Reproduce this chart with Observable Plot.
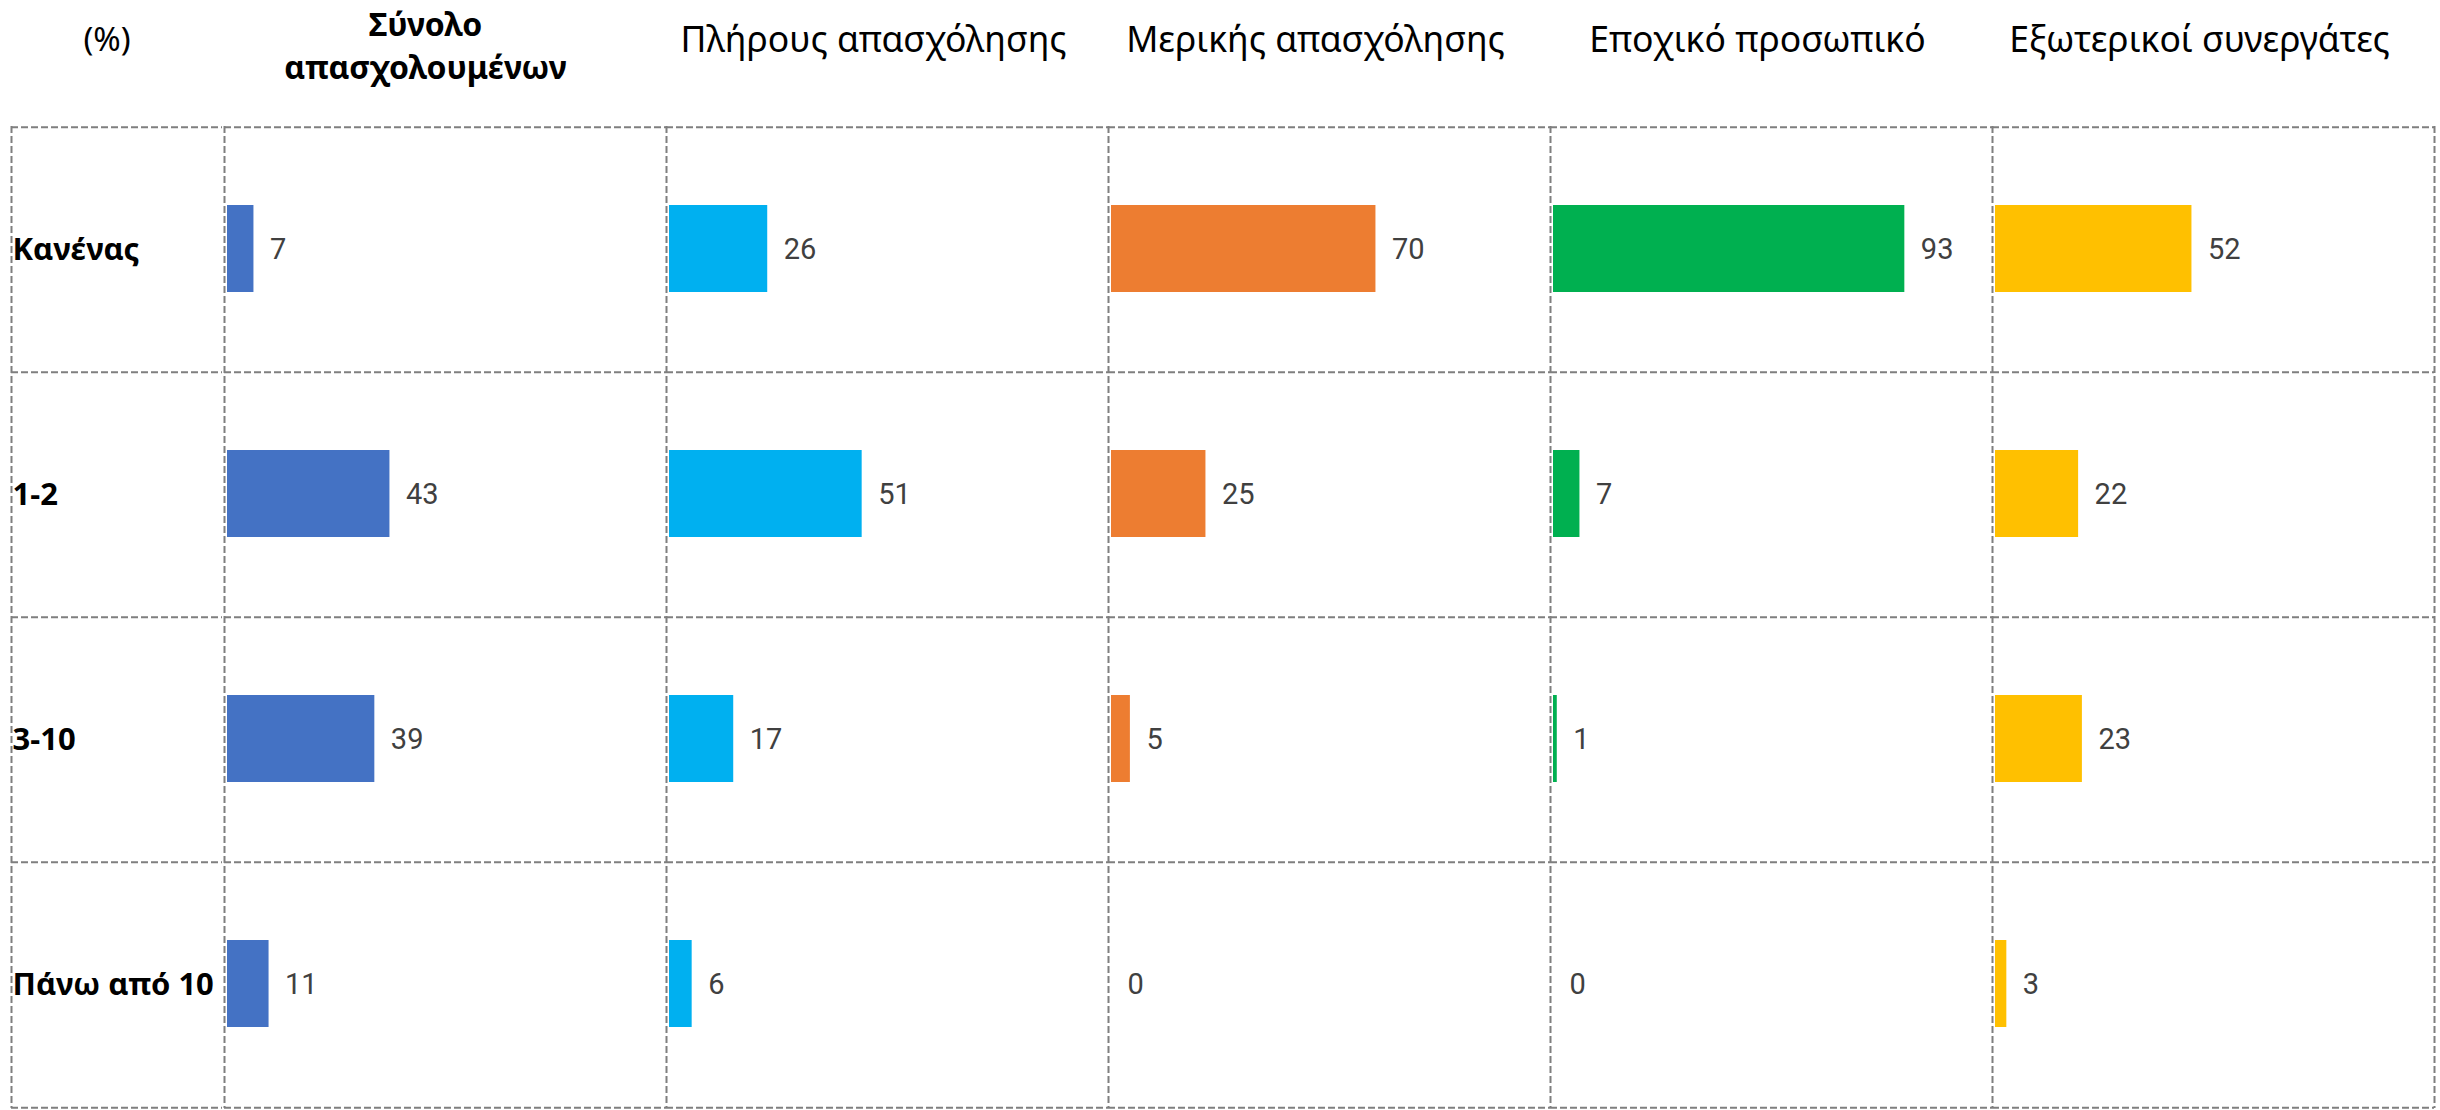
<!DOCTYPE html>
<html><head><meta charset="utf-8">
<script src="https://cdn.jsdelivr.net/npm/d3@7"></script>
<script src="https://cdn.jsdelivr.net/npm/@observablehq/plot@0.6"></script>
<style>
html,body{margin:0;padding:0;background:#fff;}
#chart{display:flex;width:2440px;height:1110px;}
#chart svg{display:block;overflow:visible;}
</style></head><body><div id="chart"></div>
<script>
const categories = ["Κανένας", "1-2", "3-10", "Πάνω από 10"];
const columns = ["total", "fullTime", "partTime", "seasonal", "external"];
const headerLabels = ["Σύνολο\nαπασχολουμένων", "Πλήρους απασχόλησης", "Μερικής απασχόλησης", "Εποχικό προσωπικό", "Εξωτερικοί συνεργάτες"];
const unitLabel = "(%)";
const total = [7, 43, 39, 11];
const fullTime = [26, 51, 17, 6];
const partTime = [70, 25, 5, 0];
const seasonal = [93, 7, 1, 0];
const external = [52, 22, 23, 3];
const colors = ["#4472C4", "#00B0F0", "#ED7D31", "#00B050", "#FFC000"];

const series = [total, fullTime, partTime, seasonal, external];
const data = columns.flatMap((c, j) => series[j].map((v, i) => ({column: c, category: categories[i], value: v})));

const H = 1110, TOP = 126, BOTTOM = 2, xMax = 117;
const rowH = (H - TOP - BOTTOM) / categories.length;
const grid = {stroke: "#7f7f7f", strokeWidth: 2, strokeDasharray: "7,3"};
const headerFont = "'Noto Sans', 'Open Sans', sans-serif";

const labelPlot = Plot.plot({
  width: 222, height: H, marginTop: TOP, marginBottom: BOTTOM, marginLeft: 11, marginRight: 0,
  style: {overflow: "visible", background: "transparent"},
  x: {domain: [0, 1], axis: null},
  y: {type: "band", domain: categories, padding: 0, axis: null},
  marks: [
    Plot.ruleX([0], grid),
    Plot.ruleY(categories, {y: d => d, dy: -rowH / 2, ...grid}),
    Plot.ruleY(categories.slice(-1), {y: d => d, dy: rowH / 2, ...grid}),
    Plot.text(categories, {y: d => d, text: d => d, frameAnchor: "left", textAnchor: "start", lineAnchor: "middle", dx: 1,
      fontWeight: "bold", fontSize: 31, fontFamily: headerFont, fill: "#000"}),
    Plot.text([unitLabel], {text: d => d, frameAnchor: "top", lineAnchor: "middle", dy: -86, dx: -10,
      fontSize: 33, fontFamily: headerFont, fill: "#000"})
  ]
});

const mainPlot = Plot.plot({
  width: 2218, height: H, marginTop: TOP, marginBottom: BOTTOM, marginLeft: 0, marginRight: 5,
  style: {overflow: "visible", background: "transparent"},
  fx: {domain: columns, padding: 0, axis: null},
  x: {domain: [0, xMax], axis: null},
  y: {type: "band", domain: categories, padding: 0, axis: null},
  color: {domain: columns, range: colors},
  marks: [
    Plot.ruleY(categories, {y: d => d, dy: -rowH / 2, ...grid}),
    Plot.ruleY(categories.slice(-1), {y: d => d, dy: rowH / 2, ...grid}),
    Plot.ruleX([0], grid),
    Plot.ruleX(columns.slice(-1), {fx: d => d, x: () => xMax, ...grid}),
    Plot.barX(data, {fx: "column", y: "category", x: "value", fill: "column", insetTop: 78, insetBottom: 80, dx: 3}),
    Plot.text(data, {fx: "column", y: "category", x: "value", text: d => String(d.value), dx: 19, textAnchor: "start",
      fontFamily: "Roboto, sans-serif", fontSize: 29, fill: "#404040"}),
    Plot.text(columns.slice(0, 1), {fx: d => d, text: d => headerLabels[columns.indexOf(d)], frameAnchor: "top",
      lineAnchor: "middle", dy: -83, dx: -20, fontSize: 32, fontWeight: "bold", lineHeight: 1.35,
      fontFamily: headerFont, fill: "#000"}),
    Plot.text(columns.slice(1), {fx: d => d, text: d => headerLabels[columns.indexOf(d)], frameAnchor: "top",
      lineAnchor: "middle", dy: -86, dx: -14, fontSize: 35.5, fontFamily: headerFont, fill: "#000"})
  ]
});

document.getElementById("chart").append(labelPlot, mainPlot);
</script></body></html>
